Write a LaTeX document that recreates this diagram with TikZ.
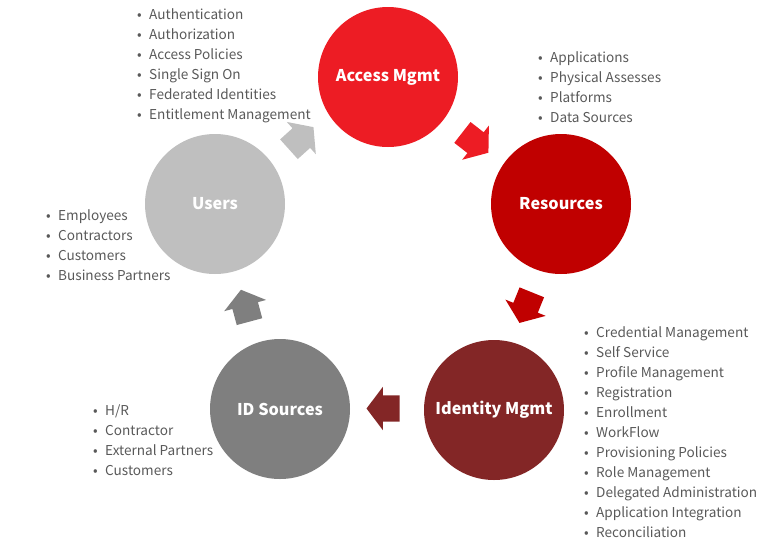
\documentclass[tikz,border=0pt]{standalone}
\usepackage{fontspec}
\setmainfont{Noto Sans CJK KR}
\usetikzlibrary{shapes.arrows,calc}

\definecolor{accessred}{HTML}{ED1C24}
\definecolor{resred}{HTML}{C00000}
\definecolor{idmred}{HTML}{832626}
\definecolor{srcgrey}{HTML}{7F7F7F}
\definecolor{usergrey}{HTML}{BFBFBF}
\definecolor{listgrey}{HTML}{595959}

\tikzset{
  stage/.style={circle, minimum size=140pt, inner sep=0pt, text=white,
    font=\fontsize{16.2}{20}\selectfont\bfseries},
  blockarrow/.style={single arrow, minimum height=33pt, minimum width=43pt,
    single arrow head extend=8.5pt, single arrow tip angle=106,
    inner xsep=0pt, inner ysep=13pt},
  item/.style={anchor=base west, inner sep=0pt, text=listgrey,
    font=\fontsize{13.6}{20}\selectfont},
}
\newcommand{\bul}[1]{\makebox[12pt][l]{\textbullet}#1}

\begin{document}
\begin{tikzpicture}[x=1pt, y=-1pt]
  \useasboundingbox (0,0) rectangle (780,547);

  % Draw stages
  \node[stage, fill=accessred] (access) at (388, 77) {Access Mgmt};
  \node[stage, fill=resred] (res) at (561, 204) {Resources};
  \node[stage, fill=idmred] (idm) at (494, 410) {Identity Mgmt};
  \node[stage, fill=srcgrey] (src) at (280, 409) {ID Sources};
  \node[stage, fill=usergrey] (users) at (215, 204) {Users};

  % Draw arrows
  \node[blockarrow, fill=usergrey, rotate=42] (a1) at ($(users)!0.5!(access)+(-4,1)$) {};
  \node[blockarrow, fill=accessred, rotate=-38] (a2) at ($(access)!0.5!(res)+(-3,-1)$) {};
  \node[blockarrow, fill=resred, rotate=-112] (a3) at ($(res)!0.5!(idm)+(0,-4)$) {};
  \node[blockarrow, fill=idmred, rotate=180] (a4) at ($(idm)!0.5!(src)+(1,-1)$) {};
  \node[blockarrow, fill=srcgrey, rotate=105] (a5) at ($(src)!0.5!(users)+(-1,4)$) {};

  % Draw lists
  \foreach \t [count=\i from 0] in {Authentication, Authorization, Access Policies,
      Single Sign On, Federated Identities, Entitlement Management}
    \node[item] (acc\i) at (137, 19+20*\i) {\bul{\t}};
  \foreach \t [count=\i from 0] in {Applications, Physical Assesses, Platforms,
      Data Sources}
    \node[item] (res\i) at (538, 62+20*\i) {\bul{\t}};
  \foreach \t [count=\i from 0] in {Credential Management, Self Service,
      Profile Management, Registration, Enrollment, WorkFlow, Provisioning Policies,
      Role Management, Delegated Administration, Application Integration,
      Reconciliation}
    \node[item] (idm\i) at (584, 337+20*\i) {\bul{\t}};
  \foreach \t [count=\i from 0] in {H/R, Contractor, External Partners, Customers}
    \node[item] (src\i) at (93, 415+20*\i) {\bul{\t}};
  \foreach \t [count=\i from 0] in {Employees, Contractors, Customers,
      Business Partners}
    \node[item] (usr\i) at (46, 220+20*\i) {\bul{\t}};
\end{tikzpicture}
\end{document}
